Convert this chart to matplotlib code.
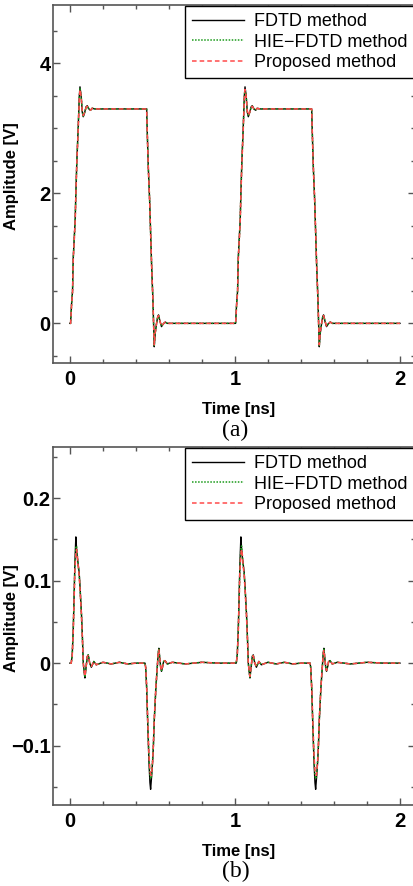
import numpy as np
import matplotlib
matplotlib.use('Agg')
import matplotlib.pyplot as plt
from matplotlib.ticker import MultipleLocator

# ---- data (one period, repeated every 1 ns) ----
period = 1.0

# (a) output voltage
t_a = [0.0, 0.004, 0.010, 0.016, 0.020, 0.026, 0.032, 0.036, 0.042, 0.050,
       0.057, 0.061, 0.068, 0.075, 0.081, 0.090, 0.098, 0.105, 0.115, 0.125,
       0.135, 0.150, 0.465, 0.468, 0.475, 0.483, 0.489, 0.495, 0.503, 0.507,
       0.511, 0.517, 0.525, 0.532, 0.537, 0.546, 0.555, 0.565, 0.578, 0.590,
       0.610, 1.000]
fdtd_a = [0.0, 0.0, 0.30, 0.50, 1.00, 1.30, 1.60, 2.00, 2.50, 3.00,
          3.50, 3.64, 3.50, 3.25, 3.18, 3.25, 3.33, 3.35, 3.30, 3.28,
          3.31, 3.30, 3.30, 3.00, 2.40, 1.90, 1.40, 0.90, 0.36, 0.00,
          -0.36, -0.15, 0.00, 0.10, 0.13, 0.03, -0.05, -0.01, 0.02, 0.00,
          0.00, 0.00]
hie_a = [0.0, 0.0, 0.28, 0.50, 0.98, 1.28, 1.60, 1.98, 2.48, 2.98,
         3.48, 3.61, 3.50, 3.26, 3.19, 3.25, 3.33, 3.34, 3.30, 3.28,
         3.31, 3.30, 3.30, 3.00, 2.40, 1.90, 1.40, 0.90, 0.36, 0.00,
         -0.34, -0.14, 0.00, 0.10, 0.12, 0.03, -0.04, -0.01, 0.02, 0.00,
         0.00, 0.00]
prop_a = [0.0, 0.0, 0.27, 0.48, 0.97, 1.27, 1.58, 1.97, 2.47, 2.97,
          3.46, 3.60, 3.49, 3.27, 3.20, 3.25, 3.32, 3.34, 3.30, 3.28,
          3.31, 3.30, 3.30, 3.00, 2.40, 1.90, 1.40, 0.90, 0.36, 0.00,
          -0.33, -0.14, 0.00, 0.10, 0.12, 0.03, -0.04, -0.01, 0.02, 0.00,
          0.00, 0.00]

# (b) crosstalk voltage
t_b = [0.0, 0.008, 0.014, 0.020, 0.024, 0.030, 0.036, 0.040, 0.044, 0.050,
       0.056, 0.062, 0.070, 0.076, 0.081, 0.087, 0.091, 0.098, 0.105, 0.111,
       0.120, 0.130, 0.145, 0.160, 0.200, 0.250, 0.300, 0.350, 0.400, 0.455,
       0.459, 0.465, 0.471, 0.479, 0.485, 0.489, 0.494, 0.501, 0.506, 0.511,
       0.516, 0.521, 0.526, 0.531, 0.535, 0.539, 0.545, 0.550, 0.555, 0.562,
       0.568, 0.576, 0.590, 0.620, 0.700, 0.800, 0.900, 1.000]
fdtd_b = [0.0, 0.0, 0.010, 0.040, 0.070, 0.120, 0.153, 0.140, 0.130, 0.120,
          0.110, 0.090, 0.060, 0.030, 0.000, -0.012, -0.018, -0.005, 0.008, 0.010,
          0.000, -0.005, 0.002, -0.002, 0.001, -0.001, 0.001, -0.001, 0.000, 0.000,
          -0.005, -0.030, -0.070, -0.120, -0.145, -0.153, -0.140, -0.120, -0.100, -0.070,
          -0.050, -0.030, -0.015, 0.000, 0.012, 0.018, 0.005, -0.005, -0.010, -0.004,
          0.002, 0.003, -0.001, 0.001, -0.001, 0.001, 0.000, 0.000]
hie_b = [0.0, 0.0, 0.010, 0.038, 0.068, 0.115, 0.140, 0.142, 0.132, 0.118,
         0.108, 0.088, 0.058, 0.029, 0.000, -0.011, -0.017, -0.005, 0.008, 0.010,
         0.000, -0.004, 0.002, -0.002, 0.001, -0.001, 0.001, -0.001, 0.000, 0.000,
         -0.005, -0.029, -0.068, -0.115, -0.135, -0.140, -0.138, -0.118, -0.098, -0.069,
         -0.049, -0.029, -0.015, 0.000, 0.012, 0.017, 0.005, -0.005, -0.009, -0.004,
         0.002, 0.003, -0.001, 0.001, -0.001, 0.001, 0.000, 0.000]
prop_b = [0.0, 0.0, 0.009, 0.036, 0.066, 0.112, 0.132, 0.138, 0.133, 0.118,
          0.107, 0.087, 0.057, 0.028, 0.000, -0.011, -0.016, -0.005, 0.008, 0.009,
          0.000, -0.004, 0.002, -0.002, 0.001, -0.001, 0.001, -0.001, 0.000, 0.000,
          -0.005, -0.028, -0.066, -0.112, -0.130, -0.135, -0.136, -0.120, -0.098, -0.068,
          -0.048, -0.029, -0.014, 0.000, 0.011, 0.016, 0.005, -0.005, -0.009, -0.004,
          0.002, 0.003, -0.001, 0.001, -0.001, 0.001, 0.000, 0.000]

labels = ['FDTD method', 'HIE\u2212FDTD method', 'Proposed method']


def two_periods(t, v):
    t = np.asarray(t)
    v = np.asarray(v)
    return np.concatenate([t, t[1:] + period]), np.concatenate([v, v[1:]])


def draw_panel(ax, t, series, ylim, ymajor, yminor, yfmt, caption, cap_y):
    styles = [dict(color='black', lw=1.0, ls='-'),
              dict(color='#1a9a1a', lw=1.1, ls=(0, (1, 1))),
              dict(color='#ff4a4a', lw=1.1, ls=(0, (3, 2)))]
    for v, st, lab in zip(series, styles, labels):
        x, y = two_periods(t, v)
        ax.plot(x, y, label=lab, **st)

    ax.set_xlim(-0.1, 2.09)
    ax.set_ylim(*ylim)
    ax.xaxis.set_major_locator(MultipleLocator(1))
    ax.xaxis.set_minor_locator(MultipleLocator(0.2))
    ax.yaxis.set_major_locator(MultipleLocator(ymajor))
    ax.yaxis.set_minor_locator(MultipleLocator(yminor))
    ax.set_xticks([0, 1, 2])
    ax.set_xticklabels(['0', '1', '2'])
    ticks = [tk for tk in ax.get_yticks() if ylim[0] <= tk <= ylim[1]]
    ax.set_yticks(ticks)
    ax.set_yticklabels([yfmt(tk) for tk in ticks])

    ax.tick_params(which='both', direction='in', top=True, right=True,
                   color='#555555', width=1.0)
    ax.tick_params(which='major', length=5)
    ax.tick_params(which='minor', length=3)
    ax.tick_params(axis='x', pad=5)
    ax.tick_params(axis='y', pad=2)
    for lbl in ax.get_xticklabels() + ax.get_yticklabels():
        lbl.set_fontweight('bold')
        lbl.set_fontsize(14.5)
        lbl.set_family('Liberation Sans')
    for sp in ax.spines.values():
        sp.set_color('#555555')
        sp.set_linewidth(1.2)

    ax.set_xlabel('Time [ns]', fontsize=12, fontweight='bold',
                  family='Liberation Sans')
    ax.set_ylabel('Amplitude [V]', fontsize=12, fontweight='bold',
                  family='Liberation Sans')
    ax.xaxis.set_label_coords(0.511, -0.108)
    ax.yaxis.set_label_coords(-0.094, 0.522)

    leg = ax.legend(loc='upper right', bbox_to_anchor=(1.0, 0.998),
                    borderaxespad=0, fancybox=False, framealpha=1,
                    edgecolor='black', handlelength=2.9, handletextpad=0.55,
                    labelspacing=0.2, borderpad=0.4,
                    prop=dict(family='Liberation Sans', size=13))
    leg.get_frame().set_linewidth(1.0)

    ax.figure.text(0.569, cap_y, caption, ha='center', va='center',
                   fontsize=17, family='Liberation Serif')


def fmt_a(v):
    return '%d' % round(v)


def fmt_b(v):
    if abs(v) < 1e-9:
        return '0'
    return ('%.1f' % v).replace('-', '\u2212')


fig = plt.figure(figsize=(4.14, 8.86), dpi=100)
ax_a = fig.add_axes([0.129, 0.5903, 0.873, 0.4041])
ax_b = fig.add_axes([0.129, 0.0914, 0.873, 0.4041])

draw_panel(ax_a, t_a, [fdtd_a, hie_a, prop_a], (-0.61, 4.9), 2, 0.5,
           fmt_a, '(a)', 0.5147)
draw_panel(ax_b, t_b, [fdtd_b, hie_b, prop_b], (-0.172, 0.262), 0.1, 0.05,
           fmt_b, '(b)', 0.0162)

fig.savefig('out.png', dpi=100)
